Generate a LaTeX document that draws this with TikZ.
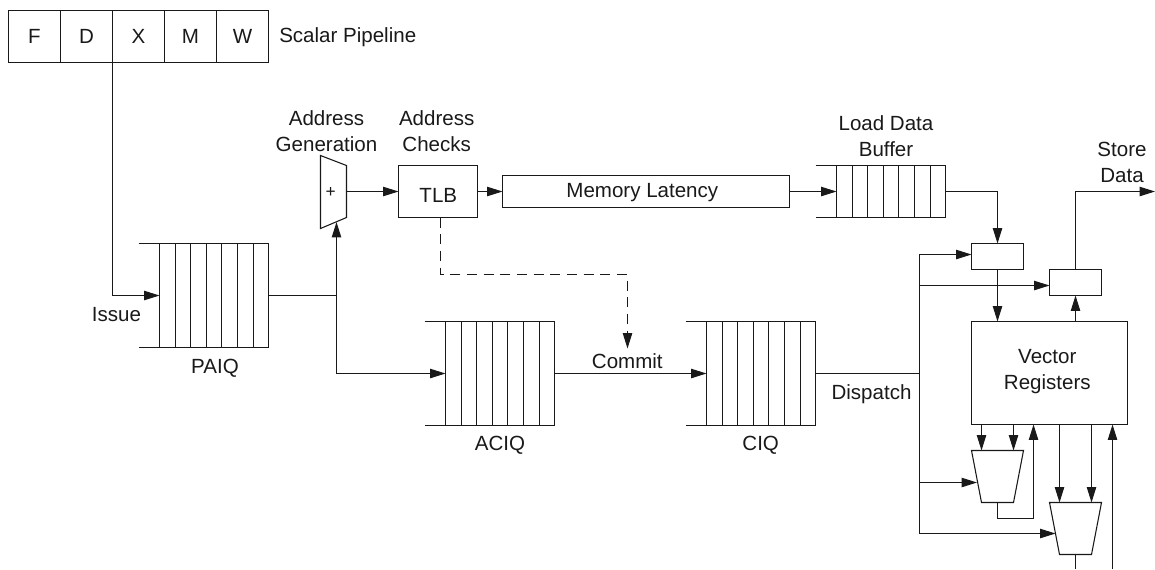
\documentclass[tikz,border=0pt]{standalone}
\usepackage{fontspec}
\setmainfont{Liberation Sans}
\usetikzlibrary{arrows.meta,calc}
\definecolor{ink}{gray}{0.1}
\tikzset{
  x=0.75pt,y=-0.75pt,
  every node/.style={font=\fontsize{15.4}{19.5}\selectfont,text=ink},
  wire/.style={draw=ink,line width=0.8pt},
  flow/.style={wire,-{Triangle[length=11.5pt,width=7pt]}},
  dashflow/.style={flow,dash pattern=on 7.5pt off 5pt},
  boxed/.style={draw=ink,line width=0.8pt,rectangle,inner sep=0pt,outer sep=0pt},
  ghost/.style={rectangle,inner sep=0pt,outer sep=0pt},
  lbl/.style={align=center,inner sep=0pt},
}
% \bx{name}{x0}{y0}{x1}{y1}{text}
\newcommand{\bx}[6]{\node[boxed,minimum width={(#4-#2)*0.75pt},minimum height={(#5-#3)*0.75pt}] (#1) at ({(#2+#4)/2},{(#3+#5)/2}) {#6};}
% \qu{name}{x of first cell line}{y0}{y1}{stub x}
\newcommand{\qu}[5]{%
  \node[ghost,minimum width={109*0.75pt},minimum height={(#4-#3)*0.75pt}] (#1) at ({#2+54.5},{(#3+#4)/2}) {};
  \draw[wire] (#5,#3) -- (#1.north east) -- (#1.south east) -- (#5,#4);
  \foreach \i in {0,...,6} \draw[wire] ({#2+round(\i*15.6)},#3) -- ({#2+round(\i*15.6)},#4);
}
% \tz{name}{x0}{y0}{x1}{y1}: trapezium, wide side up
\newcommand{\tz}[5]{%
  \node[ghost,minimum width={(#4-#2)*0.75pt},minimum height={(#5-#3)*0.75pt}] (#1) at ({(#2+#4)/2},{(#3+#5)/2}) {};
  \draw[wire,line join=miter] (#2,#3) -- (#4,#3) -- ({#4-10},#5) -- ({#2+10},#5) -- cycle;
}
\begin{document}
\begin{tikzpicture}
\useasboundingbox (0,0) rectangle (1155,569);
% pipeline
\bx{pf}{8.5}{10.5}{60.5}{62.5}{F}
\bx{pd}{60.5}{10.5}{112.5}{62.5}{D}
\bx{px}{112.5}{10.5}{164.5}{62.5}{X}
\bx{pm}{164.5}{10.5}{216.5}{62.5}{M}
\bx{pw}{216.5}{10.5}{268.5}{62.5}{W}
\node[lbl,anchor=west] (lsp) at (279,37) {Scalar Pipeline};
% queues
\qu{paiq}{159.5}{243.5}{347.5}{138.5}
\qu{aciq}{445.5}{321.5}{425.5}{424.5}
\qu{ciq}{706.5}{321.5}{425.5}{685.5}
\qu{ldb}{836.5}{165.5}{217.5}{815.5}
% address generation adder
\node[ghost,minimum width={26*0.75pt},minimum height={72*0.75pt}] (adder) at (333.5,191.5) {};
\draw[wire] (320.5,155.5) -- (346.5,165.5) -- (346.5,217.5) -- (320.5,228.5) -- cycle;
\node[lbl,font=\fontsize{13}{14}\selectfont] (plus) at (330.7,192.3) {+};
\coordinate (adderin) at (336.5,222);
% boxes
\bx{tlb}{398.5}{165.5}{477.5}{217.5}{}
\node[lbl] (ltlb) at (438.3,195) {TLB};
\bx{mem}{502.5}{175.5}{789.5}{207.5}{}
\node[lbl] (lmem) at (642.3,193) {Memory Latency};
\bx{sela}{971.5}{243.5}{1023.5}{269.5}{}
\bx{selb}{1049.5}{269.5}{1101.5}{295.5}{}
\bx{vr}{971.5}{321.5}{1127.5}{424.5}{}
\node[lbl] (lvr) at (1047.3,372) {Vector\\Registers};
\tz{alua}{971.5}{450.5}{1023.5}{502.5}
\tz{alub}{1049.5}{502.5}{1101.5}{554.5}
% labels
\node[lbl] (lag) at (326.5,131.3) {Address\\Generation};
\node[lbl] (lac) at (436.7,131.3) {Address\\Checks};
\node[lbl] (lld) at (886,136) {Load Data\\Buffer};
\node[lbl] (lsd) at (1122,162.5) {Store\\Data};
\node[lbl] (lissue) at (116.5,315) {Issue};
\node[lbl] (lpaiq) at (215,368) {PAIQ};
\node[lbl] (laciq) at (500,445) {ACIQ};
\node[lbl] (lciq) at (760.7,445) {CIQ};
\node[lbl] (lcommit) at (627.3,361) {Commit};
\node[lbl] (ldisp) at (871.5,394) {Dispatch};
% connectors
\draw[flow] (px.south west) |- (paiq.west);
\coordinate (paiqj) at (336.5,295.5);
\draw[wire] (paiq.east) -- (paiqj);
\draw[flow] (paiqj) -- (adderin);
\draw[flow] (paiqj) |- (aciq.west);
\draw[flow] (adder.east) -- (tlb.west);
\draw[flow] (tlb.east) -- (mem.west);
\draw[flow] (mem.east) -- (ldb.west);
\draw[flow] (ldb.east) -| (sela.north);
\draw[flow] (sela.south) -- (sela.south |- vr.north);
\coordinate (dashstart) at (440.5,217.5);
\coordinate (dashbend) at (440.5,274.5);
\coordinate (dashtip) at (627.5,348.5);
\draw[dashflow] (dashstart) -- (dashbend) -| (dashtip);
\draw[flow] (aciq.east) -- (ciq.west);
\coordinate (busj) at (919.5,373.5);
\draw[wire] (ciq.east) -- (busj);
\coordinate (bustop) at (919.5,254.5);
\coordinate (busbot) at (919.5,533.5);
\coordinate (busb) at (919.5,285.5);
\coordinate (busa) at (919.5,482.5);
\coordinate (alutipa) at (977,482.5);
\coordinate (alutipb) at (1055.5,533.5);
\draw[flow] (busj) -- (bustop) -- (sela.west |- bustop);
\draw[flow] (busb) -- (selb.west |- busb);
\draw[flow] (busa) -- (alutipa);
\draw[flow] (busj) -- (busbot) -- (alutipb);
\draw[flow] (selb.south |- vr.north) -- (selb.south);
\coordinate (sdend) at (1155,191.5);
\draw[flow] (selb.north) |- (sdend);
\foreach \xx in {981.5,1013.5} \draw[flow] (\xx,424.5) -- (\xx,450.5);
\foreach \xx in {1059.5,1091.5} \draw[flow] (\xx,424.5) -- (\xx,502.5);
\coordinate (fba) at (1033.5,518.5);
\draw[flow] (alua.south) |- (fba) -- (fba |- vr.south);
\coordinate (outb) at (1075.5,569);
\draw[wire] (alub.south) -- (outb);
\coordinate (fbb) at (1112.5,569);
\draw[flow] (fbb) -- (fbb |- vr.south);
\end{tikzpicture}
\end{document}
